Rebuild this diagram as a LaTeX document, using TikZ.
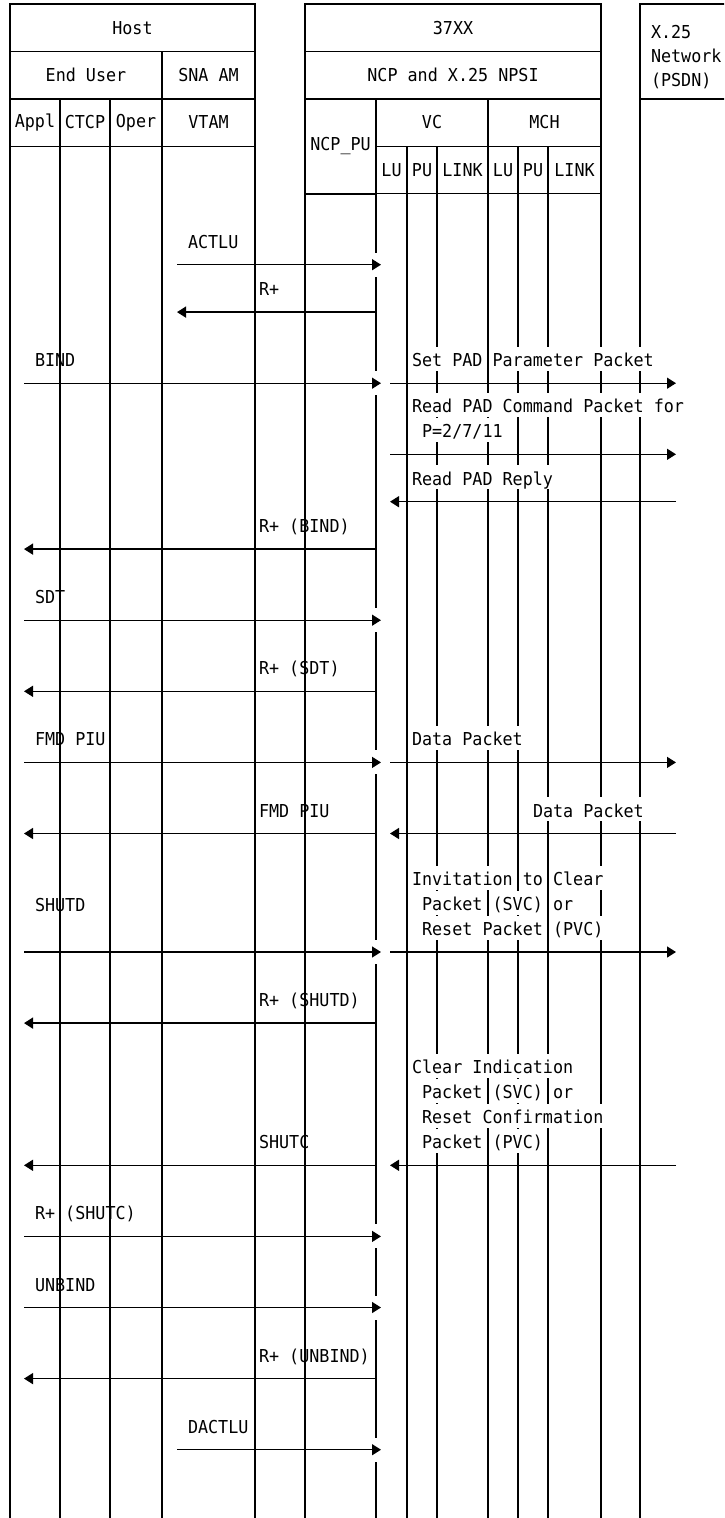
\documentclass[tikz,border=0pt]{standalone}
\usepackage{fontspec}
\usepackage{xcolor}
\usepackage{tikz}
\usetikzlibrary{arrows.meta,positioning,calc}
\newfontfamily\diafont[FakeStretch=0.94]{DejaVu Sans Mono}
% word on a white patch, as on the network side
\newcommand{\wb}[1]{{\setlength{\fboxsep}{0pt}\colorbox{white}{\rule[-4pt]{0pt}{24pt}#1}}}

\begin{document}
\begin{tikzpicture}[
    x=1pt, y=-1pt,
    font=\diafont\fontsize{17.8pt}{23.7pt}\selectfont,
    line width=1.4pt,
    cell/.style={draw, anchor=north west, inner sep=0pt, outer sep=0pt, minimum height=47.4pt},
    lbl/.style={anchor=base west, inner sep=0pt, outer sep=0pt, align=left},
    msg/.style={-{Triangle[length=9pt, width=11pt]}}
]
\useasboundingbox (0,0) rectangle (724,1518);
\clip (0,0) rectangle (724,1518);

% host
\node[cell, minimum width=245pt] (host) at (10,4) {Host};
\node[cell, minimum width=152pt] (enduser) at (host.south west) {End User};
\node[cell, minimum width=93pt] (snaam) at (enduser.north east) {SNA AM};
\node[cell, minimum width=50pt] (appl) at (enduser.south west) {Appl};
\node[cell, minimum width=50pt] (ctcp) at (appl.north east) {CTCP};
\node[cell, minimum width=52pt] (oper) at (ctcp.north east) {Oper};
\node[cell, minimum width=93pt] (vtam) at (oper.north east) {VTAM};

% 37XX
\node[cell, minimum width=296pt] (cpu) at (305,4) {37XX};
\node[cell, minimum width=296pt] (npsi) at (cpu.south west) {NCP and X.25 NPSI};
\node[cell, minimum width=71pt, minimum height=95.2pt] (ncppu) at (npsi.south west) {NCP\_PU};
\node[cell, minimum width=112pt] (vc) at (ncppu.north east) {VC};
\node[cell, minimum width=113pt] (mch) at (vc.north east) {MCH};
\node[cell, minimum width=31pt] (vclu) at (vc.south west) {LU};
\node[cell, minimum width=30pt] (vcpu) at (vclu.north east) {PU};
\node[cell, minimum width=51pt] (vclink) at (vcpu.north east) {LINK};
\node[cell, minimum width=30pt] (mchlu) at (mch.south west) {LU};
\node[cell, minimum width=30pt] (mchpu) at (mchlu.north east) {PU};
\node[cell, minimum width=53pt] (mchlink) at (mchpu.north east) {LINK};

% network
\node[cell, minimum width=120pt, minimum height=94.8pt] (net) at (640,4) {};
\node[lbl] (nettxt) at (651,86) {X.25\\Network\\(PSDN)};

% lifelines
\coordinate (bot) at (0,1518);
\foreach \c in {appl, ctcp, oper, vtam, ncppu, vclu, vcpu, vclink, mchlu, mchpu, mchlink, net}
  \draw (\c.south west) -- (\c.south west |- bot);
\draw (vtam.south east) -- (vtam.south east |- bot);
\draw (mchlink.south east) -- (mchlink.south east |- bot);

% message rows
\foreach \n/\k in {actlu/11, rplu/13, bind/16, rdpad/19, rdrep/21, rpbind/23, sdt/26,
    rpsdt/29, fmdo/32, fmdi/35, shutd/40, rpshutd/43, shutc/49, rpshutc/52,
    unbind/55, rpunbind/58, dactlu/61}
  \coordinate (\n) at (0,4+\k*23.7);

\coordinate (xeu) at (24,0);
\coordinate (xvt) at (177,0);
\coordinate (xncp) at (ncppu.south east);
\coordinate (xin) at (381,0);
\coordinate (xnl) at (390,0);
\coordinate (xnr) at (676,0);

% breaks in the NCP_PU line at incoming tips
\foreach \r in {actlu, bind, sdt, fmdo, shutd, rpshutc, unbind, dactlu}
  \draw[white, line width=4pt] ($(xncp |- \r)+(0,-12)$) -- ($(xncp |- \r)+(0,12)$);

% labels
\coordinate (leu) at (35,-16.5);
\coordinate (lvt) at (188,-16.5);
\coordinate (lncp) at (259,-16.5);
\coordinate (lnet) at (412,-16.5);
\coordinate (lnet2) at (533,-16.5);

\node[lbl] (l1) at ($(lvt)+(actlu)$) {ACTLU};
\node[lbl] (l2) at ($(lncp)+(rplu)$) {R+};
\node[lbl] (l3) at ($(leu)+(bind)$) {BIND};
\node[lbl] (l4) at ($(lnet)+(bind)$) {\wb{Set} \wb{PAD} \wb{Parameter} \wb{Packet}};
\node[lbl] (l5) at ($(lnet)+(rdpad)$) {\wb{Read} \wb{PAD} \wb{Command} \wb{Packet} \wb{for}\\
    \hphantom{R}\wb{P=2/7/11}};
\node[lbl] (l6) at ($(lnet)+(rdrep)$) {\wb{Read} \wb{PAD} \wb{Reply}};
\node[lbl] (l7) at ($(lncp)+(rpbind)$) {R+ (BIND)};
\node[lbl] (l8) at ($(leu)+(sdt)$) {SDT};
\node[lbl] (l9) at ($(lncp)+(rpsdt)$) {R+ (SDT)};
\node[lbl] (l10) at ($(leu)+(fmdo)$) {FMD PIU};
\node[lbl] (l11) at ($(lnet)+(fmdo)$) {\wb{Data} \wb{Packet}};
\node[lbl] (l12) at ($(lncp)+(fmdi)$) {FMD PIU};
\node[lbl] (l13) at ($(lnet2)+(fmdi)$) {\wb{Data} \wb{Packet}};
\node[lbl] (l14) at ($(lnet)+(shutd)$) {\wb{Invitation} \wb{to} \wb{Clear}\\
    \hphantom{I}\wb{Packet} \wb{(SVC)} \wb{or}\\
    \hphantom{I}\wb{Reset} \wb{Packet} \wb{(PVC)}};
\node[lbl] (l15) at ($(leu)+(shutd)+(0,-23.7)$) {SHUTD};
\node[lbl] (l16) at ($(lncp)+(rpshutd)$) {R+ (SHUTD)};
\node[lbl] (l17) at ($(lnet)+(shutc)$) {\wb{Clear} \wb{Indication}\\
    \hphantom{C}\wb{Packet} \wb{(SVC)} \wb{or}\\
    \hphantom{C}\wb{Reset} \wb{Confirmation}\\
    \hphantom{C}\wb{Packet} \wb{(PVC)}};
\node[lbl] (l18) at ($(lncp)+(shutc)$) {SHUTC};
\node[lbl] (l19) at ($(leu)+(rpshutc)$) {R+ (SHUTC)};
\node[lbl] (l20) at ($(leu)+(unbind)$) {UNBIND};
\node[lbl] (l21) at ($(lncp)+(rpunbind)$) {R+ (UNBIND)};
\node[lbl] (l22) at ($(lvt)+(dactlu)$) {DACTLU};

% messages
\foreach \a/\b/\r in {xvt/xin/actlu, xncp/xvt/rplu, xeu/xin/bind, xnl/xnr/bind,
    xnl/xnr/rdpad, xnr/xnl/rdrep, xncp/xeu/rpbind, xeu/xin/sdt, xncp/xeu/rpsdt,
    xeu/xin/fmdo, xnl/xnr/fmdo, xnr/xnl/fmdi, xncp/xeu/fmdi, xeu/xin/shutd,
    xnl/xnr/shutd, xncp/xeu/rpshutd, xnr/xnl/shutc, xncp/xeu/shutc,
    xeu/xin/rpshutc, xeu/xin/unbind, xncp/xeu/rpunbind, xvt/xin/dactlu}
  \draw[msg] (\a |- \r) -- (\b |- \r);
\end{tikzpicture}
\end{document}
